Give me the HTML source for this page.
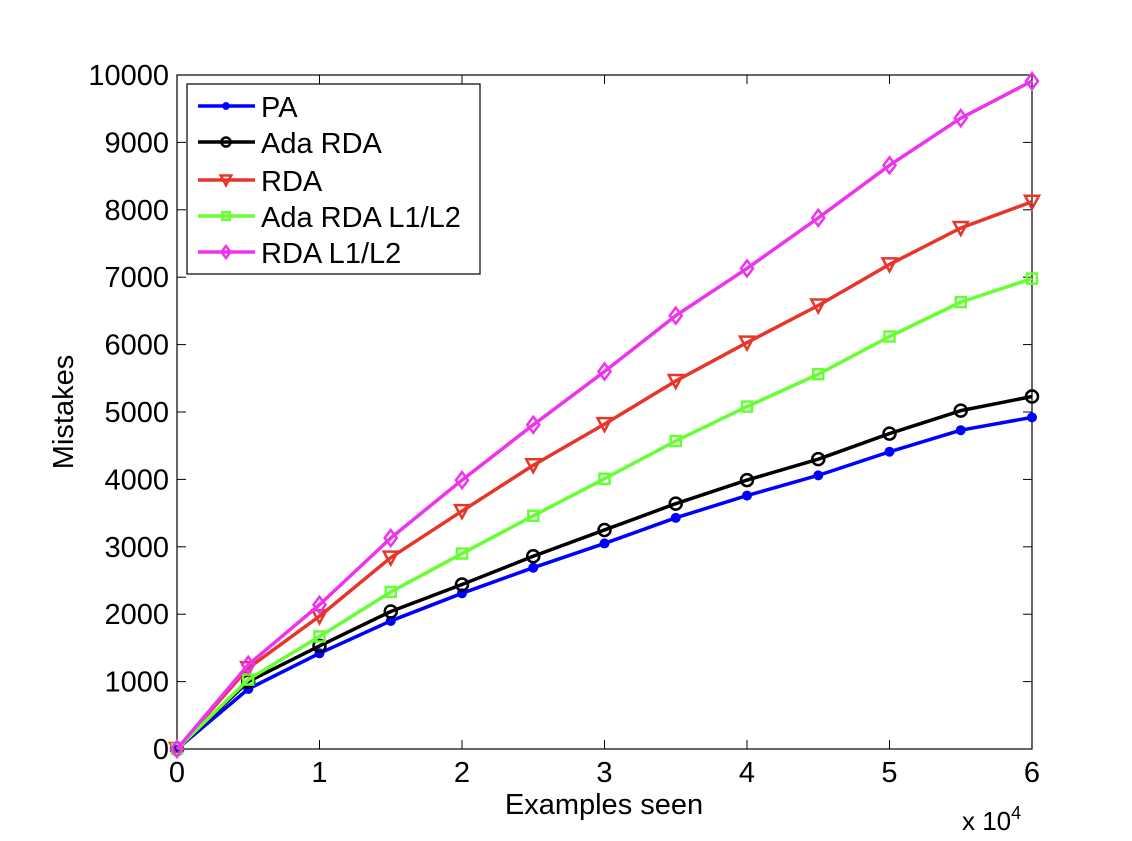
<!DOCTYPE html>
<html><head><meta charset="utf-8"><style>
body{margin:0;background:#fff;}
svg text{font-family:"Liberation Sans",Arial,sans-serif;fill:#000;}
</style></head><body>
<svg id="chart" width="1132" height="836" xmlns="http://www.w3.org/2000/svg">
<rect x="0" y="0" width="1132" height="836" fill="#fff"/>
<g id="grid"></g>
<g id="series"></g>
<g id="legend"></g>
</svg>
<script>
const xValues=[0,0.5,1,1.5,2,2.5,3,3.5,4,4.5,5,5.5,6];
const paVals=[0,890,1420,1900,2310,2690,3050,3430,3760,4060,4410,4730,4920];
const adaRdaVals=[0,1000,1530,2040,2440,2860,3250,3640,3990,4300,4680,5020,5230];
const rdaVals=[0,1200,1970,2840,3530,4210,4820,5460,6030,6580,7190,7730,8120];
const adaL1L2Vals=[0,1030,1670,2330,2900,3460,4010,4570,5080,5560,6120,6630,6980];
const rdaL1L2Vals=[0,1250,2140,3130,3990,4810,5600,6430,7130,7880,8660,9360,9910];
const xTicks=[0,1,2,3,4,5,6];
const yTicks=[0,1000,2000,3000,4000,5000,6000,7000,8000,9000,10000];
const seriesNames=["PA","Ada RDA","RDA","Ada RDA L1/L2","RDA L1/L2"];
const seriesColors=["#0000ff","#000000","#e8352a","#66ff33","#ee33ee"];
const seriesMarkers=["dot","circle","tri","square","diamond"];
const seriesData=[paVals,adaRdaVals,rdaVals,adaL1L2Vals,rdaL1L2Vals];

const L=177,R=1032,T=75,B=749;
const sx=v=>L+(v-0)/6*(R-L);
const sy=v=>B-(v/10000)*(B-T);
const NS="http://www.w3.org/2000/svg";
function mk(tag,attrs,parent){const e=document.createElementNS(NS,tag);for(const k in attrs)e.setAttribute(k,attrs[k]);parent.appendChild(e);return e;}
const grid=document.getElementById('grid');
const ser=document.getElementById('series');
const leg=document.getElementById('legend');

let ax=mk('rect',{x:L,y:T,width:R-L,height:B-T,fill:'none',stroke:'#000','stroke-width':1.2},grid);


xTicks.forEach(v=>{
  const x=sx(v);
  mk('line',{x1:x,y1:B,x2:x,y2:B-9,stroke:'#000'},grid);
  mk('line',{x1:x,y1:T,x2:x,y2:T+9,stroke:'#000'},grid);
  const t=mk('text',{x:x,y:B+33,'text-anchor':'middle','font-size':29},grid);
  t.textContent=v;
  
  
});
yTicks.forEach(v=>{
  const y=sy(v);
  mk('line',{x1:L,y1:y,x2:L+9,y2:y,stroke:'#000'},grid);
  mk('line',{x1:R,y1:y,x2:R-9,y2:y,stroke:'#000'},grid);
  const t=mk('text',{x:L-8,y:y+10,'text-anchor':'end','font-size':29},grid);
  t.textContent=v;
  
  
});
let xt=mk('text',{x:604,y:814,'text-anchor':'middle','font-size':29},grid);xt.textContent='Examples seen';


let ex=mk('text',{x:962,y:830,'font-size':26},grid);ex.innerHTML='x 10<tspan font-size="18" dy="-11">4</tspan>';


let yt=mk('text',{x:0,y:0,'text-anchor':'middle','font-size':29,transform:'translate(73,412) rotate(-90)'},grid);yt.textContent='Mistakes';



function marker(type,x,y,c,g,s){
  s=s||1;
  if(type==='dot')return mk('circle',{cx:x,cy:y,r:4.5*s,fill:c,stroke:c},g);
  if(type==='circle')return mk('circle',{cx:x,cy:y,r:6*s,fill:'none',stroke:c,'stroke-width':2.5},g);
  if(type==='tri')return mk('polygon',{points:`${x-7*s},${y-6*s} ${x+7*s},${y-6*s} ${x},${y+7*s}`,fill:'none',stroke:c,'stroke-width':2.5},g);
  if(type==='square')return mk('rect',{x:x-5*s,y:y-5*s,width:10*s,height:10*s,fill:'none',stroke:c,'stroke-width':2.5},g);
  return mk('polygon',{points:`${x},${y-8*s} ${x+6*s},${y} ${x},${y+8*s} ${x-6*s},${y}`,fill:'none',stroke:c,'stroke-width':2.5},g);
}
seriesData.forEach((vals,i)=>{
  const g=mk('g',{},ser);
  
  
  const pts=vals.map((v,j)=>sx(xValues[j])+','+sy(v)).join(' ');
  mk('polyline',{points:pts,fill:'none',stroke:seriesColors[i],'stroke-width':3.5,'stroke-linejoin':'round'},g);
  vals.forEach((v,j)=>{
    const m=marker(seriesMarkers[i],sx(xValues[j]),sy(v),seriesColors[i],g);
    
    
  });
});
let lb=mk('rect',{x:187,y:84,width:293,height:190,fill:'#fff',stroke:'#000','stroke-width':1.2},leg);


const ly=[106,142,180,216,252];
seriesNames.forEach((n,i)=>{
  const g=mk('g',{},leg);
  
  
  mk('line',{x1:198,y1:ly[i],x2:255,y2:ly[i],stroke:seriesColors[i],'stroke-width':3.5},g);
  marker(seriesMarkers[i],226,ly[i],seriesColors[i],g,0.75);
  const t=mk('text',{x:261,y:ly[i]+11,'font-size':29},g);t.textContent=n;
});
</script>
</body></html>
